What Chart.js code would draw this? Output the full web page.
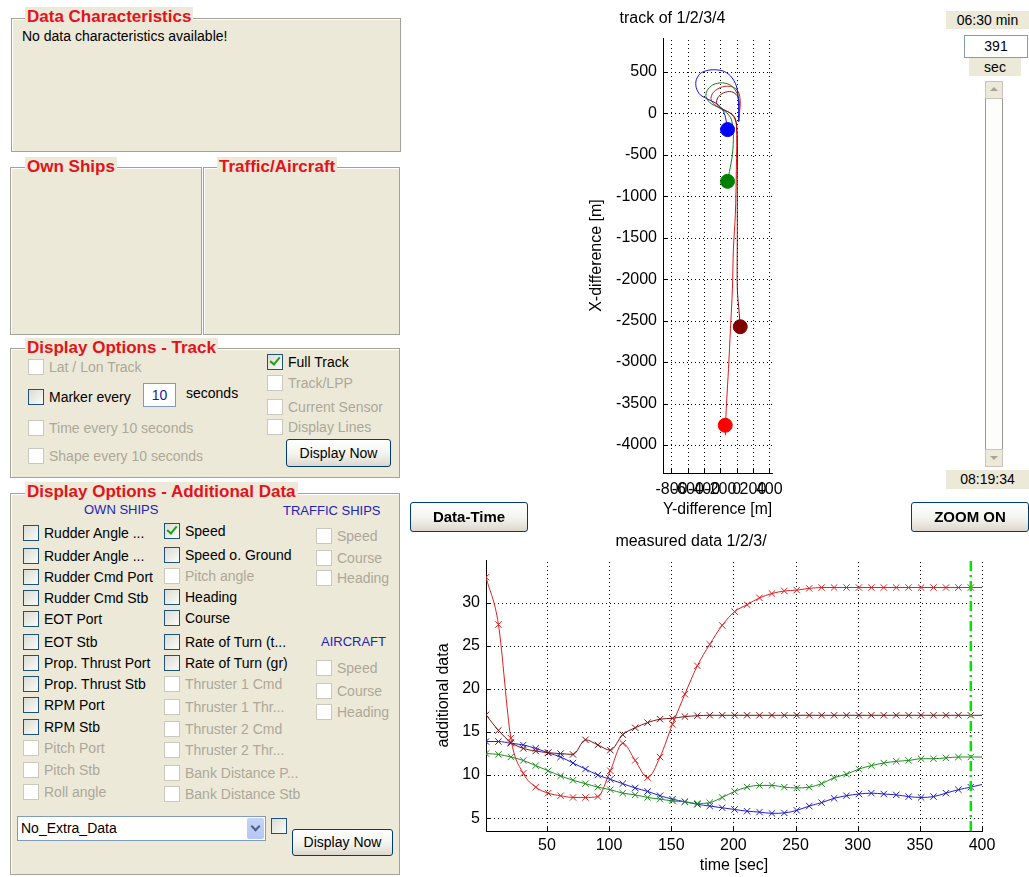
<!DOCTYPE html>
<html>
<head>
<meta charset="utf-8">
<script src="https://cdn.jsdelivr.net/npm/chart.js@4.4.1/dist/chart.umd.min.js"></script>
<style>
body{margin:0;width:1029px;height:877px;background:#fff;position:relative;overflow:hidden;font-family:"Liberation Sans",Arial,sans-serif;font-size:14px;color:#000}
.panel{position:absolute;box-sizing:border-box;background:#ece9d8;border:1px solid #a3a299;box-shadow:inset 1px 1px 0 #fff,1px 1px 0 #fff}
.ptitle{position:absolute;color:#e3131b;font-weight:bold;font-size:17px;line-height:19px;background:#ece9d8;padding:0 2px;white-space:nowrap}
.cb{position:absolute;width:14px;height:14px;border:1px solid #1c5180;background:linear-gradient(135deg,#dcdcd4,#fbfbf9)}
.cb.dis{border-color:#cbc9bd;background:#fff}
.cb.on::after{content:"";position:absolute;left:4px;top:0;width:4px;height:8px;border:solid #21a121;border-width:0 2px 2px 0;transform:rotate(40deg)}
.lbl{position:absolute;white-space:nowrap;line-height:16px}
.lbl.dis{color:#aca899}
.btn{position:absolute;box-sizing:border-box;border:1px solid #003c74;border-radius:3px;background:linear-gradient(#fff,#f3f3ee 55%,#dcd7cc);text-align:center;white-space:nowrap}
.blue{position:absolute;color:#2323b5;font-size:13px;line-height:16px;white-space:nowrap}
.box{position:absolute;box-sizing:border-box;background:#ece9d8;text-align:center;font-size:14px;white-space:nowrap}
.edit{position:absolute;box-sizing:border-box;background:#fff;border:1px solid #7f9db9;text-align:center}
.chart{position:absolute}
</style>
</head>
<body>

<!-- linke Seite: GUI-Panels -->
<div class="panel" style="left:11px;top:18px;width:390px;height:134px"></div>
<div class="ptitle" style="left:25px;top:7px">Data Characteristics</div>
<div class="lbl" style="left:22px;top:28px">No data characteristics available!</div>

<div class="panel" style="left:10px;top:167px;width:192px;height:168px"></div>
<div class="ptitle" style="left:25px;top:157px">Own Ships</div>
<div class="panel" style="left:203px;top:167px;width:197px;height:168px"></div>
<div class="ptitle" style="left:217px;top:157px">Traffic/Aircraft</div>

<div class="panel" style="left:10px;top:348px;width:390px;height:130px"></div>
<div class="ptitle" style="left:25px;top:338px">Display Options - Track</div>
<div class="edit" style="left:143px;top:383px;width:33px;height:24px;line-height:22px;color:#1a1aa0">10</div>
<div class="lbl" style="left:186px;top:385px">seconds</div>
<div class="btn" style="left:286px;top:439px;width:105px;height:28px;line-height:26px">Display Now</div>

<div class="panel" style="left:10px;top:493px;width:390px;height:382px"></div>
<div class="ptitle" style="left:25px;top:482px">Display Options - Additional Data</div>
<div class="blue" style="left:84px;top:502px">OWN SHIPS</div>
<div class="blue" style="left:283px;top:503px">TRAFFIC SHIPS</div>
<div class="blue" style="left:321px;top:634px">AIRCRAFT</div>
<div class="edit" style="left:17px;top:816px;width:249px;height:25px;line-height:23px;text-align:left;padding-left:3px">No_Extra_Data
  <div style="position:absolute;right:1px;top:1px;width:17px;height:21px;background:linear-gradient(#c6d3f7,#b4c6f5);border-radius:2px">
    <div style="position:absolute;left:5px;top:5px;width:5px;height:5px;border:solid #4d6185;border-width:0 2px 2px 0;transform:rotate(45deg)"></div>
  </div>
</div>
<div class="btn" style="left:292px;top:829px;width:101px;height:27px;line-height:25px">Display Now</div>

<!-- Mitte / rechts -->
<div class="btn" style="left:410px;top:502px;width:118px;height:30px;line-height:28px;font-weight:bold;font-size:15px;z-index:2">Data-Time</div>
<div class="btn" style="left:911px;top:502px;width:118px;height:30px;line-height:28px;font-weight:bold;font-size:15px;z-index:2">ZOOM ON</div>

<div class="box" style="left:946px;top:11px;width:83px;height:18px;line-height:18px">06:30 min</div>
<div class="edit" style="left:964px;top:35px;width:64px;height:23px;line-height:21px">391</div>
<div class="box" style="left:969px;top:58px;width:52px;height:18px;line-height:18px">sec</div>
<div style="position:absolute;left:985px;top:81px;width:18px;height:386px;box-sizing:border-box;border:1px solid #9a9a94;background:#fdfdfb"></div>
<div style="position:absolute;left:985px;top:81px;width:18px;height:18px;box-sizing:border-box;border:1px solid #c8c6bc;background:#ece9d8">
  <div style="position:absolute;left:4px;top:5px;border:4px solid transparent;border-bottom:4px solid #a5a39a;border-top:0"></div></div>
<div style="position:absolute;left:985px;top:449px;width:18px;height:18px;box-sizing:border-box;border:1px solid #c8c6bc;background:#ece9d8">
  <div style="position:absolute;left:4px;top:6px;border:4px solid transparent;border-top:4px solid #a5a39a;border-bottom:0"></div></div>
<div class="box" style="left:946px;top:470px;width:83px;height:19px;line-height:19px">08:19:34</div>

<div class="chart" style="left:570px;top:0;z-index:1"><canvas id="track" width="220" height="522"></canvas></div>
<div class="chart" style="left:400px;top:530px;z-index:1"><canvas id="measured" width="629" height="347"></canvas></div>

<script>
// Track-Plot: Y-difference (horizontal) / X-difference (vertikal), in m
const trackXTicks = [-800, -600, -400, -200, 0, 200, 400]
const trackYTicks = [500, 0, -500, -1000, -1500, -2000, -2500, -3000, -3500, -4000]

const blueH = [25, 25, 20, -4, -76, -172, -316, -436, -496, -496, -448, -340, -244, -172, -136, -112]
const blueV = [-100, 0, 162, 330, 450, 510, 522, 486, 402, 306, 222, 162, 114, 42, -54, -198]

const greenH = [25, 32, 8, -64, -172, -292, -364, -376, -328, -220, -124, -64, -40, -52, -88, -112]
const greenV = [-100, 114, 234, 330, 366, 342, 270, 198, 126, 66, 6, -78, -258, -498, -702, -822]

const maroonH = [25, 32, 8, -64, -160, -232, -244, -184, -88, -16, 8, 8, 8, 8, 32, 44]
const maroonV = [-100, 114, 210, 258, 246, 186, 114, 54, 6, -66, -258, -798, -1518, -2118, -2418, -2574]

const redH = [25, 44, 20, -52, -172, -280, -316, -268, -160, -52, -4, -4, -16, -40, -52, -76, -100, -124, -136, -136]
const redV = [-100, 138, 258, 318, 318, 258, 174, 102, 42, -18, -138, -678, -1218, -1638, -2118, -2598, -3078, -3498, -3762, -3882]

// aktuelle Positionen (blau, grün, dunkelrot, rot)
const posH = [-112, -112, 44, -140]
const posV = [-198, -822, -2574, -3762]

// Messdaten: Zeit [s] und Geschwindigkeit
const times = [1, 11, 21, 31, 41, 51, 61, 71, 81, 91, 101, 111, 121, 131, 141, 151, 161, 171, 181, 191,
  201, 211, 221, 231, 241, 251, 261, 271, 281, 291, 301, 311, 321, 331, 341, 351, 361, 371, 381, 391, 400]
const speedRed = [33.0, 27.5, 14.3, 10.2, 8.6, 7.9, 7.6, 7.4, 7.4, 7.5, 10.5, 13.7, 11.7, 9.7, 12.1, 15.9, 19.4, 22.7, 25.2, 27.4,
  29.0, 29.8, 30.6, 31.1, 31.4, 31.5, 31.7, 31.8, 31.8, 31.8, 31.8, 31.8, 31.8, 31.8, 31.8, 31.8, 31.8, 31.8, 31.8, 31.8, 31.8]
const speedMaroon = [17.0, 15.2, 13.8, 13.1, 12.8, 12.6, 12.5, 12.4, 14.1, 13.5, 12.9, 14.7, 15.5, 16.1, 16.5, 16.6, 16.8, 16.9, 16.95, 16.95,
  16.95, 16.95, 16.95, 16.95, 16.95, 16.95, 16.95, 16.95, 16.95, 16.95, 16.95, 16.95, 16.95, 16.95, 16.95, 16.95, 16.95, 16.95, 16.95, 16.95, 16.95]
const speedBlue = [13.9, 13.9, 13.7, 13.5, 13.1, 12.6, 12.1, 11.4, 10.7, 10.0, 9.5, 9.0, 8.5, 8.1, 7.6, 7.2, 6.9, 6.6, 6.4, 6.2,
  6.0, 5.8, 5.7, 5.55, 5.6, 5.9, 6.4, 6.8, 7.3, 7.6, 7.8, 7.9, 7.8, 7.7, 7.5, 7.4, 7.5, 7.9, 8.3, 8.6, 8.9]
const speedGreen = [12.5, 12.4, 12.1, 11.7, 11.1, 10.5, 9.9, 9.4, 9.0, 8.6, 8.3, 7.9, 7.7, 7.4, 7.2, 7.0, 6.9, 6.7, 6.8, 7.4,
  8.1, 8.6, 8.8, 8.8, 8.6, 8.5, 8.6, 9.0, 9.7, 10.1, 10.7, 11.1, 11.4, 11.6, 11.7, 11.9, 11.9, 12.0, 12.1, 12.1, 12.1]
const timeTicks = [50, 100, 150, 200, 250, 300, 350, 400]
const speedTicks = [5, 10, 15, 20, 25, 30]
const cursorTime = 391

// Checkboxen: [x, y-Mitte, Text, Zustand]
const checkboxes = [
  [28, 367, 'Lat / Lon Track', 'dis'], [28, 397, 'Marker every', 'off'], [28, 428, 'Time every 10 seconds', 'dis'],
  [28, 456, 'Shape every 10 seconds', 'dis'], [267, 362, 'Full Track', 'on'], [267, 383, 'Track/LPP', 'dis'],
  [267, 407, 'Current Sensor', 'dis'], [267, 427, 'Display Lines', 'dis'],
  [23, 533, 'Rudder Angle ...', 'off'], [23, 556, 'Rudder Angle ...', 'off'], [23, 577, 'Rudder Cmd Port', 'off'],
  [23, 598, 'Rudder Cmd Stb', 'off'], [23, 619, 'EOT Port', 'off'], [23, 642, 'EOT Stb', 'off'],
  [23, 663, 'Prop. Thrust Port', 'off'], [23, 684, 'Prop. Thrust Stb', 'off'], [23, 705, 'RPM Port', 'off'],
  [23, 727, 'RPM Stb', 'off'], [23, 748, 'Pitch Port', 'dis'], [23, 770, 'Pitch Stb', 'dis'], [23, 792, 'Roll angle', 'dis'],
  [164, 531, 'Speed', 'on'], [164, 555, 'Speed o. Ground', 'off'], [164, 576, 'Pitch angle', 'dis'],
  [164, 597, 'Heading', 'off'], [164, 618, 'Course', 'off'], [164, 642, 'Rate of Turn (t...', 'off'],
  [164, 663, 'Rate of Turn (gr)', 'off'], [164, 684, 'Thruster 1 Cmd', 'dis'], [164, 707, 'Thruster 1 Thr...', 'dis'],
  [164, 729, 'Thruster 2 Cmd', 'dis'], [164, 750, 'Thruster 2 Thr...', 'dis'], [164, 773, 'Bank Distance P...', 'dis'],
  [164, 794, 'Bank Distance Stb', 'dis'],
  [316, 536, 'Speed', 'dis'], [316, 558, 'Course', 'dis'], [316, 578, 'Heading', 'dis'],
  [316, 668, 'Speed', 'dis'], [316, 691, 'Course', 'dis'], [316, 712, 'Heading', 'dis'],
  [271, 826, '', 'off']
]

checkboxes.forEach(([x, cy, text, state]) => {
    const b = document.createElement('div')
    b.className = 'cb ' + state
    b.style.left = x + 'px'
    b.style.top = (cy - 8) + 'px'
    document.body.appendChild(b)
    if (text) {
        const l = document.createElement('div')
        l.className = 'lbl' + (state === 'dis' ? ' dis' : '')
        l.textContent = text
        l.style.left = (x + 21) + 'px'
        l.style.top = (cy - 8) + 'px'
        document.body.appendChild(l)
    }
})

const font = { family: '"Liberation Sans", Arial, sans-serif', size: 16 }
const fixTicks = list => scale => { scale.ticks = list.map(v => ({ value: v })) }

// MATLAB-artiges Gitter: gepunktet, Ticks nach innen
const matlabGrid = {
    id: 'matlabGrid',
    beforeDatasetsDraw(chart) {
        const { ctx, chartArea: a, scales: { x, y } } = chart
        ctx.save()
        ctx.strokeStyle = '#000'
        ctx.lineWidth = 1
        ctx.setLineDash([1, 3])
        x.ticks.forEach(t => {
            const px = Math.round(x.getPixelForValue(t.value)) + 0.5
            ctx.beginPath(); ctx.moveTo(px, a.bottom); ctx.lineTo(px, a.top); ctx.stroke()
        })
        y.ticks.forEach(t => {
            const py = Math.round(y.getPixelForValue(t.value)) + 0.5
            ctx.beginPath(); ctx.moveTo(a.left, py); ctx.lineTo(a.right, py); ctx.stroke()
        })
        ctx.setLineDash([])
        x.ticks.forEach(t => {
            const px = Math.round(x.getPixelForValue(t.value)) + 0.5
            ctx.beginPath(); ctx.moveTo(px, a.bottom); ctx.lineTo(px, a.bottom - 5); ctx.stroke()
        })
        y.ticks.forEach(t => {
            const py = Math.round(y.getPixelForValue(t.value)) + 0.5
            ctx.beginPath(); ctx.moveTo(a.left, py); ctx.lineTo(a.left + 5, py); ctx.stroke()
        })
        ctx.restore()
    }
}

function axis(min, max, ticks, title, fit, pad, titlePad) {
    return {
        type: 'linear', min: min, max: max,
        afterBuildTicks: fixTicks(ticks),
        afterFit: fit,
        ticks: { autoSkip: false, maxRotation: 0, padding: pad, color: '#000', font: font, callback: v => String(v) },
        grid: { display: false, drawTicks: false },
        border: { display: true, color: '#000', width: 1 },
        title: { display: true, text: title, color: '#000', font: font, padding: titlePad }
    }
}

function trackLine(h, v, color) {
    return {
        data: h.map((x, i) => ({ x: x, y: v[i] })),
        showLine: true, borderColor: color, borderWidth: 1, pointRadius: 0, tension: 0.3
    }
}

const posColors = ['#0000ff', '#008000', '#800000', '#ff0000']

new Chart(document.getElementById('track'), {
    type: 'scatter',
    data: {
        datasets: [
            { data: posH.map((x, i) => ({ x: x, y: posV[i] })), pointRadius: 7, pointBackgroundColor: posColors, pointBorderColor: posColors, showLine: false },
            trackLine(blueH, blueV, '#1010f0'),
            trackLine(greenH, greenV, '#108010'),
            trackLine(maroonH, maroonV, '#801010'),
            trackLine(redH, redV, '#e01818')
        ]
    },
    options: {
        responsive: false, animation: false,
        layout: { padding: { right: 15 } },
        plugins: {
            legend: { display: false }, tooltip: { enabled: false },
            title: { display: true, text: 'track of 1/2/3/4', color: '#000', font: { ...font, weight: 'normal' }, padding: { top: 9, bottom: 9.8 } }
        },
        scales: {
            x: axis(-904, 436, trackXTicks, 'Y-difference [m]', s => { s.height = 49 }, 7, { top: 0, bottom: 2.4 }),
            y: axis(-4337, 906, trackYTicks, 'X-difference [m]', s => { s.width = 93 }, 6, { top: 17, bottom: 0 })
        }
    },
    plugins: [matlabGrid]
})

function speedLine(vals, color) {
    return {
        data: times.map((t, i) => ({ x: t, y: vals[i] })),
        showLine: true, borderColor: color, backgroundColor: color, borderWidth: 1,
        pointStyle: 'crossRot', pointRadius: times.map(t => (t - 1) % 10 === 0 ? 4.5 : 0), pointBorderWidth: 1,
        cubicInterpolationMode: 'monotone'
    }
}

const yMin = 3.5, yMax = 35

new Chart(document.getElementById('measured'), {
    type: 'scatter',
    data: {
        datasets: [
            { data: [{ x: cursorTime, y: yMin }, { x: cursorTime, y: yMax }], showLine: true, borderColor: '#00e600', borderWidth: 2.5, borderDash: [10, 4, 2, 4], pointRadius: 0 },
            speedLine(speedRed, '#dd2020'),
            speedLine(speedMaroon, '#7a1414'),
            speedLine(speedGreen, '#1f8a1f'),
            speedLine(speedBlue, '#1f1fcc')
        ]
    },
    options: {
        responsive: false, animation: false,
        layout: { padding: { right: 47 } },
        plugins: {
            legend: { display: false }, tooltip: { enabled: false },
            title: { display: true, text: 'measured data 1/2/3/', color: '#000', font: { ...font, weight: 'normal' }, padding: { top: 1.5, bottom: 9.3 } }
        },
        scales: {
            x: axis(1, 400, timeTicks, 'time [sec]', s => { s.height = 46 }, 5, { top: 0, bottom: 1.4 }),
            y: axis(yMin, yMax, speedTicks, 'additional data', s => { s.width = 86 }, 6, { top: 34, bottom: 0 })
        }
    },
    plugins: [matlabGrid]
})
</script>
</body>
</html>
